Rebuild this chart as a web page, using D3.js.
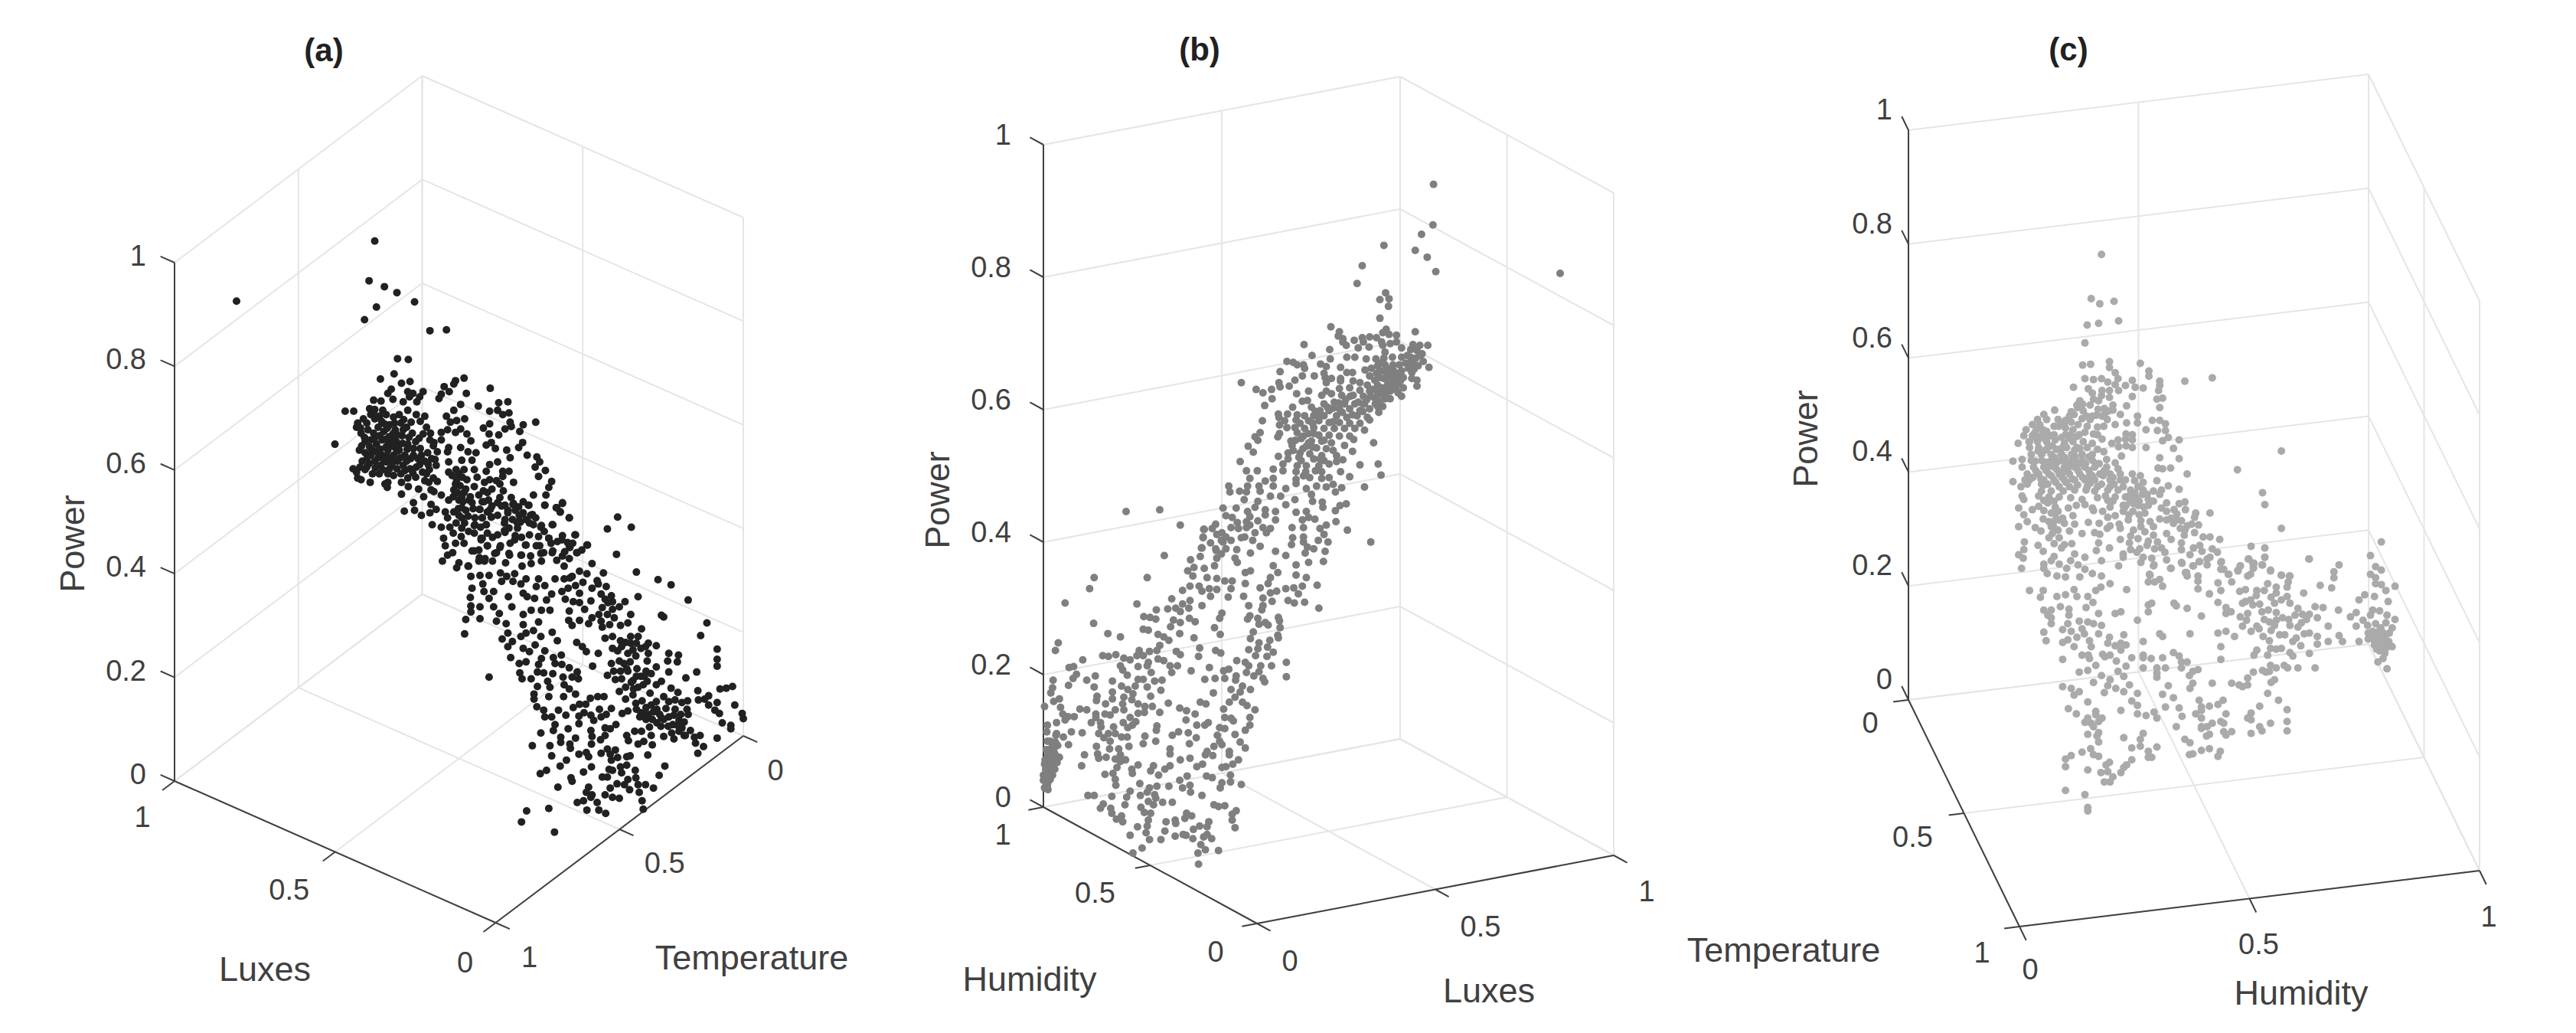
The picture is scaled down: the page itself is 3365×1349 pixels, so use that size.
<!DOCTYPE html>
<html>
<head>
<meta charset="utf-8">
<script src="https://cdn.jsdelivr.net/npm/d3@7"></script>
<style>
html, body { margin: 0; padding: 0; background: #fff; }
text { font-family: "Liberation Sans", Arial, sans-serif; fill: #404040; }
</style>
</head>
<body>
<div id="chart"></div>
<script>
var powerTicks = [0, 0.2, 0.4, 0.6, 0.8, 1];
var sideTicks = [0, 0.5, 1];

// dots, flat across,height pairs, per mille of each panel's box
// (depth can't be recovered from one view so only the projected place is kept)
var viewA = [109,734,352,805,342,758,369,751,391,744,422,733,355,727,334,712,449,699,478,700,392,666,411,665,386,648,362,642,399,637,414,639,509,643,494,640,491,636,474,633,483,627,469,624,465,619,513,625,555,631,381,630,375,625,410,627,419,625,437,627,431,621,413,621,426,615,402,615,384,618,363,616,350,617,343,607,350,603,366,605,300,604,315,604,282,565,
322,590,320,585,332,595,338,590,345,600,352,595,360,598,372,600,385,597,395,600,410,605,425,600,432,592,440,598,328,578,340,582,350,578,358,585,368,580,378,588,388,582,398,590,408,585,418,578,430,572,443,585,450,578,335,568,345,570,355,565,365,570,372,562,380,572,390,568,400,575,410,565,420,560,432,560,445,555,455,563,325,558,335,555,345,552,355,556,365,552,375,558,385,552,395,558,405,552,415,548,428,548,440,545,452,548,462,556,330,545,342,542,352,545,362,540,372,544,382,540,392,545,402,540,414,536,425,538,436,532,448,535,460,540,320,532,335,535,348,530,360,530,375,530,385,528,398,530,410,525,424,526,440,522,455,525,314,536,322,525,328,523,344,520,370,518,
534,610,503,612,491,605,478,598,510,595,496,593,485,591,503,583,469,579,480,582,494,579,514,577,521,569,543,584,553,577,570,576,554,604,570,614,586,615,588,602,568,605,577,600,554,589,590,591,581,583,592,586,613,588,607,580,635,591,548,564,557,567,564,560,612,567,605,561,584,558,590,549,620,552,637,550,642,544,634,538,652,534,640,527,663,521,658,514,653,505,631,505,596,520,651,493,682,495,671,490,678,485,694,478,664,470,554,541,568,544,548,533,577,533,588,533,577,527,554,523,572,518,578,510,550,508,530,555,516,556,503,561,482,561,456,567,469,570,480,556,505,546,523,546,527,535,509,535,482,544,482,532,496,523,514,523,532,526,545,520,527,515,509,508,491,511,500,499,518,499,482,499,469,505,456,509,447,520,462,521,451,511,438,503,429,512,411,515,399,520,375,520,374,514,399,506,420,496,404,486,422,487,434,481,449,484,453,470,460,488,451,494,476,485,480,478,491,485,505,490,505,478,505,466,527,469,523,496,541,497,552,499,572,502,592,502,613,497,623,493,599,487,581,493,568,481,550,485,536,488,541,478,557,479,548,470,527,460,509,448,494,448,473,454,469,467,476,445,489,437,480,434,471,427,500,425,496,419,516,421,527,439,541,454,550,460,568,458,581,461,599,457,610,455,624,458,626,481,613,484,608,473,631,470,644,467,640,456,658,454,682,457,691,449,704,458,726,446,642,445,617,446,590,448,572,443,550,445,539,452,545,427,536,431,563,436,588,436,610,434,626,433,644,436,664,437,682,433,707,437,
779,479,761,465,803,467,777,435,812,414,850,405,873,399,903,381,815,385,936,354,925,339,856,363,860,361,954,323,954,311,954,303,869,318,886,316,884,308,867,309,869,296,918,296,899,289,981,279,970,277,959,276,920,274,939,268,921,263,932,264,954,260,939,257,985,257,950,251,958,247,998,247,1000,241,978,233,978,229,963,236,954,218,930,208,920,200,924,221,914,219,916,212,896,221,878,217,860,220,832,198,840,210,825,214,815,211,821,226,809,226,838,221,795,221,798,215,862,185,852,174,842,159,822,144,824,134,758,129,746,133,725,133,708,142,719,144,743,142,782,147,770,148,757,151,732,148,734,151,724,154,728,160,766,159,778,164,791,163,800,157,815,163,817,154,828,163,811,171,797,169,810,180,786,177,795,186,784,184,770,180,764,181,761,172,752,172,719,178,733,184,768,192,779,195,795,196,801,197,775,204,761,205,766,199,750,200,728,196,724,201,711,199,689,192,678,185,663,197,654,180,643,176,697,171,699,167,674,160,658,135,619,132,610,119,668,107,629,209,660,209,644,224,666,227,669,234,679,219,679,213,692,229,695,211,696,206,705,218,733,211,749,216,734,220,732,227,757,230,766,229,776,234,757,221,711,235,711,244,720,248,737,239,732,245,747,252,759,246,768,253,750,243,688,245,675,251,701,254,712,258,723,258,731,265,744,267,755,267,787,247,797,250,811,259,793,264,806,269,822,262,818,243,829,240,835,231,829,254,847,261,838,257,853,246,856,242,869,243,876,234,874,224,887,226,898,221,907,227,896,237,887,239,903,246,901,252,892,260,902,262,880,263,880,252,869,261,860,267,873,277,885,272,856,285,847,281,836,271,824,281,815,278,831,285,847,302,838,294,829,297,813,300,797,297,784,297,786,288,775,287,761,292,803,284,793,278,782,273,768,306,782,309,779,321,770,324,797,318,811,315,833,318,831,309,820,324,802,330,833,330,847,327,815,338,802,338,821,347,784,351,770,338,757,336,784,333,797,354,802,364,770,370,757,382,770,379,782,373,792,379,746,364,761,364,773,360,765,352,752,349,750,356,728,353,734,360,721,370,701,379,712,378,732,380,712,389,750,388,759,397,743,404,734,395,768,386,754,413,734,424,725,412,712,415,699,409,685,406,669,406,681,391,692,395,687,382,663,388,694,368,712,357,693,357,699,351,707,331,717,326,724,320,745,318,735,303,664,343,673,333,680,316,666,313,669,306,681,305,694,301,708,296,710,288,699,290,683,290,685,281,694,276,705,270,684,267,658,267,660,278,656,285,665,294,649,295,638,296,627,288,638,279,611,288,607,295,632,270,632,264,637,255,649,251,651,243,663,243,553,290,618,308,606,306,591,313,645,312,640,305,586,326,594,332,576,335,586,342,609,338,618,342,631,345,644,338,634,328,613,324,624,320,651,321,613,352,613,364,640,355,645,369,627,369,660,369,583,353,566,356,571,365,561,373,537,373,537,359,521,374,521,367,512,358,510,341,593,373,587,385,561,391,553,383,544,391,542,400,523,395,520,384,553,410,537,410,521,409,573,413,598,412,584,409,575,403,595,403,609,400,618,406,636,397,651,398,613,389,620,385,633,383,654,381,640,406,611,421,627,424,609,434,589,434,582,425,559,427,546,430,535,427,517,421,523,439,535,440,566,437,573,445,550,445,539,454,559,455,580,463,598,452,618,446,636,445,649,437,665,439,645,427,672,428,685,421,694,430,708,437,658,454,681,452,694,445,705,458,725,446,665,470,645,469,624,472,629,482,694,478,678,485,672,490,682,496,651,493,622,493,609,482,602,473,586,484,580,472,557,479,541,478,548,470,528,470,537,488,555,488,568,496,595,494,544,497];
var denseA = [327,584,334,573,343,562,351,571,361,575,369,589,376,566,384,577,393,563,402,582,412,573,424,568,437,577,449,570,329,563,339,549,347,558,358,549,368,546,379,548,388,561,397,549,409,559,420,552,434,552,446,541,458,547,326,538,338,538,353,537,366,535,378,536,391,536,405,534,419,531,431,541,443,530,352,606,364,592,374,584,387,590,403,594,416,591,378,574,386,570,392,576,372,571,381,563,391,557,362,559,373,551,384,546,401,566,408,545,
488,528,495,535,500,530,494,518,502,516,506,526,497,508,505,503,512,512,490,503,499,489,507,497,512,487,500,481,510,472,516,480,495,472,490,460,504,456,517,462,484,467,520,503,525,489,535,505,543,510,558,512,566,522,528,478,538,467,558,492,
575,492,586,487,596,495,605,491,606,481,594,476,581,476,588,466,603,466,618,476,635,478,650,462,662,448,673,450,695,443,686,438,700,448,716,440,
812,252,820,248,826,246,833,246,842,249,848,252,860,240,868,232,884,233,892,230,890,246,878,245,864,253,855,232,848,236,840,240,806,286,812,291,820,291,807,276,826,291,801,308,806,322,812,330,828,326,793,331,786,326,795,300,772,297,790,306,745,400,752,372,762,378,718,402,705,398,695,407];

var viewB = [684,872,683,824,663,813,597,800,652,794,673,786,688,769,906,767,559,776,550,755,600,744,590,736,606,737,605,728,590,714,504,704,519,698,601,701,595,697,606,695,619,694,652,698,517,693,525,690,545,688,559,691,572,692,584,691,525,686,531,682,561,686,593,686,608,684,619,686,457,683,552,679,571,680,595,682,628,679,648,683,660,682,674,682,502,677,471,670,644,677,655,676,664,672,599,674,532,668,546,668,503,666,566,666,583,666,597,667,612,668,628,668,644,668,653,667,427,663,438,662,445,659,456,659,486,660,496,657,521,656,648,662,666,663,676,656,657,658,646,657,635,661,624,659,613,659,599,659,586,658,575,655,564,653,458,655,415,651,532,650,542,650,492,649,646,650,628,652,613,653,597,652,584,649,572,646,454,646,475,646,494,644,505,643,521,643,646,643,655,641,631,644,613,646,597,643,581,641,441,641,347,638,413,638,415,633,496,638,521,640,543,640,555,638,568,635,586,635,604,637,622,637,655,634,631,632,373,630,400,630,431,634,385,626,444,625,465,628,519,631,537,632,555,629,572,628,590,628,608,628,622,626,628,622,496,628,488,623,505,625,523,623,543,623,561,622,581,620,599,619,608,619,401,619,388,611,454,616,463,617,470,609,437,609,492,613,510,615,528,613,546,613,563,613,586,610,595,610,588,603,572,607,555,605,537,607,519,607,501,605,485,605,412,601,428,601,445,600,458,599,474,599,492,599,514,599,532,597,550,599,568,597,413,597,423,593,384,593,443,594,465,593,483,593,501,591,519,591,537,590,555,590,572,594,414,588,427,585,441,585,458,584,474,585,492,584,510,584,528,584,546,584,563,582,380,579,371,574,376,570,414,578,411,574,445,579,465,578,483,576,501,576,519,575,537,575,544,571,452,572,470,569,488,569,505,567,528,564,579,567,434,569,436,564,461,563,479,561,496,560,508,558,542,557,359,563,368,556,450,555,467,554,488,552,514,552,429,555,412,551,429,548,452,546,474,548,492,546,525,547,345,545,420,542,445,540,461,540,483,540,501,542,514,545,555,541,587,542,403,536,356,534,375,534,420,534,443,533,456,528,488,533,521,533,592,529,537,527,362,525,389,522,403,525,443,524,467,526,488,525,501,526,325,516,358,516,378,516,403,516,425,513,443,519,461,513,479,516,496,515,508,518,523,514,563,515,327,509,344,510,356,509,380,510,398,504,416,504,470,506,512,509,352,500,376,498,441,500,472,498,489,497,315,490,338,490,371,491,389,488,425,494,490,491,520,493,531,495,512,487,320,481,331,479,358,486,407,486,443,485,461,486,362,480,389,482,465,479,340,473,376,475,407,476,454,476,476,477,513,474,302,471,356,474,281,465,329,467,356,467,398,466,436,467,456,467,485,466,496,470,533,464,385,467,280,455,313,461,371,461,391,461,304,459,353,456,437,455,456,456,492,459,293,449,315,450,329,452,347,455,367,452,456,450,482,452,499,450,574,450,277,443,302,442,320,442,380,445,435,447,463,444,474,442,
145,486,204,488,240,470,282,465,280,456,212,434,278,443,258,429,275,433,304,431,336,431,363,437,407,439,425,434,443,423,465,426,491,427,494,439,459,437,253,416,264,420,282,419,300,422,262,410,287,408,304,407,318,404,331,404,354,414,363,416,340,426,403,422,411,414,398,408,443,411,461,408,89,408,182,408,81,395,244,393,257,398,273,398,291,395,304,394,278,392,329,395,354,401,380,396,394,401,409,392,425,395,439,396,454,398,480,399,398,390,447,389,257,381,225,383,293,386,324,385,351,386,385,384,429,381,440,378,458,379,401,380,38,378,164,377,244,377,278,375,360,375,385,375,483,372,198,370,218,371,232,372,255,372,240,368,383,370,313,366,176,362,187,361,197,359,228,358,256,360,362,363,412,361,309,360,358,359,376,360,414,357,88,354,240,355,266,356,378,353,389,355,223,350,300,349,394,352,415,349,175,347,184,346,368,344,239,342,310,341,411,340,113,342,201,341,211,338,135,338,264,337,363,336,412,337,220,334,397,334,26,331,378,331,204,328,274,325,393,326,21,322,199,322,233,321,360,323,376,324,302,322,168,322,186,321,403,320,104,316,127,317,114,315,164,316,175,316,240,317,311,319,372,316,272,315,392,315,69,311,141,313,152,311,201,312,211,310,339,310,354,308,426,308,184,308,166,303,135,304,222,304,235,304,45,302,53,303,360,304,381,304,400,304,291,302,182,304,139,299,225,296,259,298,316,298,325,300,356,296,378,297,189,296,58,294,91,292,147,293,369,292,338,292,52,289,426,291,385,289,76,287,121,286,166,288,175,288,195,286,208,287,283,288,301,289,318,289,337,287,17,287,388,285,44,281,89,279,137,280,161,280,182,279,349,280,16,278,206,275,148,276,329,276,363,276,13,272,121,273,298,272,345,273,157,271,94,268,141,267,188,268,336,267,28,265,18,262,93,263,121,265,155,264,275,261,285,259,326,261,349,261,219,260,166,259,109,259,139,259,2,256,30,255,178,256,191,256,357,257,239,254,64,253,76,252,126,252,141,252,316,253,371,252,251,251,108,247,117,246,177,249,166,248,204,249,34,247,92,247,266,247,54,244,43,244,362,243,318,243,329,242,92,243,152,243,250,240,38,240,333,239,84,237,140,237,162,238,289,237,23,237,100,237,269,234,362,234,7,234,283,234,101,232,123,232,148,231,199,233,309,231,318,230,156,234,354,228,198,228,6,226,49,226,68,225,97,224,237,226,23,224,254,225,114,224,126,224,226,222,305,222,336,223,178,221,106,219,137,220,147,220,268,219,7,215,35,220,117,215,197,215,309,215,345,214,21,214,44,211,175,212,256,212,313,211,93,209,150,209,299,209,354,207,15,208,132,206,222,206,116,206,287,203,326,203,72,199,95,200,222,200,14,200,135,199,284,199,297,198,326,199,110,196,28,196,97,195,144,193,126,194,257,195,240,193,3,193,18,193,342,193,67,186,135,191,166,187,12,187,193,186,222,186,279,188,332,188,129,184,269,185,320,185,5,181,155,182,213,182,313,184,188,180,156,177,108,176,122,177,202,175,0,175,9,173,252,174,286,174,296,172,328,175,126,170,239,169,328,167,169,165,127,163,257,163,313,166,347,164,0,169,7,163,199,162,220,162,244,160,310,160,186,160,182,155,152,156,258,155,195,152,278,151,78,151,89,151,120,150,170,151,146,149,197,148,184,144,209,143,226,143,193,140,143,140,105,141,299,140,307,138,318,139,100,136,118,136,171,137,338,133,177,131,331,129,120,130,188,130,251,130,260,127,137,127,128,123,248,124,331,122,184,122,231,122,139,120,215,120,232,118,290,120,182,115,165,114,274,115,287,114,336,113,263,111,213,109,180,107,287,105,152,104,231,103,245,105,281,102,250,104,262,100,186,99,206,99,295,100,276,93,173,89,284,87,307,86,271,83,157,83,272,70,5,205,12,215,18,205,8,195,14,190,20,182,2,188,10,178,2,172,5,166,12,170,16,175,2,160,8,158,25,210,20,200,24,190,17,185,22,222];
var denseB = [592,661,602,655,608,651,617,650,622,648,590,652,603,646,610,642,618,641,626,640,590,644,602,633,612,634,618,630,594,632,600,625,586,624,578,630,574,622,582,613,594,625,590,616,567,618,560,613,552,615,538,622,530,618,518,614,508,608,498,609,477,604,484,598,508,592,524,603,542,600,560,604,450,590,456,575,474,578,492,570,472,590,465,567,442,570,455,560,472,562,485,548,477,534,460,533,438,558,448,550,640,655,644,662,650,654,638,670,660,670,
8,199,11,184,6,176,13,198,4,182,15,180,18,196,9,168,
303,440,312,452,339,441,362,470,342,466,320,456,296,466,312,436];

var viewC = [338,790,320,738,335,732,360,735,368,712,313,707,333,709,309,686,305,660,319,661,352,664,352,657,362,651,367,644,406,662,421,653,421,647,440,641,484,641,532,645,309,644,324,643,338,644,349,640,362,637,392,642,380,636,397,634,411,633,440,636,289,634,438,630,315,632,339,630,352,630,368,630,322,627,338,624,352,622,392,623,435,620,445,621,300,618,324,620,333,618,295,613,318,613,358,613,382,612,343,609,358,607,440,610,256,607,285,605,306,606,371,602,237,602,329,601,339,600,401,600,226,596,242,596,262,596,275,595,285,593,304,597,318,596,348,596,427,595,440,595,217,590,230,590,255,588,275,586,297,590,313,588,331,587,342,588,362,590,382,592,401,592,450,591,206,584,224,584,242,582,288,584,309,581,324,579,416,584,436,583,450,583,202,577,217,577,233,577,248,577,275,578,295,576,331,578,381,579,392,578,455,575,192,568,211,570,226,570,242,570,257,572,273,568,288,570,306,570,322,568,339,573,367,572,380,573,392,572,445,571,474,572,356,568,212,563,228,563,244,563,259,561,277,563,295,563,313,563,331,561,368,564,381,565,392,563,416,563,464,562,653,559,215,555,233,555,250,555,268,555,286,555,304,555,322,555,342,558,373,553,183,547,199,549,215,548,233,548,250,548,268,548,286,548,304,548,322,548,347,549,440,551,474,550,362,545,199,540,219,540,237,540,255,540,273,540,291,540,309,540,326,540,347,540,367,538,437,539,445,538,459,539,576,537,208,532,228,532,246,532,264,532,282,532,300,532,318,532,335,532,353,532,371,532,392,532,406,530,488,532,204,525,183,523,212,525,237,525,255,525,273,525,291,525,309,525,326,525,353,525,371,525,396,524,411,522,435,524,197,517,237,519,264,517,282,517,313,517,331,517,353,517,376,517,402,517,455,518,233,512,250,512,271,512,291,513,311,513,326,512,349,513,367,513,389,513,411,513,429,512,443,513,474,514,620,510,199,506,228,506,246,505,264,505,284,504,331,504,380,505,398,505,420,502,440,508,202,502,237,501,255,500,304,502,349,501,358,500,389,500,429,500,452,498,484,499,624,496,309,496,376,495,402,495,420,495,474,497,193,492,217,490,257,493,280,492,294,495,322,492,353,493,443,492,465,490,485,490,237,489,324,489,340,488,376,488,393,488,414,486,452,488,503,486,528,486,202,484,257,485,288,483,362,483,470,485,236,479,264,478,349,481,385,478,440,479,501,481,452,478,273,474,208,476,315,475,334,474,407,477,423,476,464,474,478,477,193,470,222,469,250,470,291,473,353,471,369,473,407,470,429,470,488,471,508,472,653,468,232,465,262,466,282,465,348,468,371,468,394,466,476,468,304,462,326,463,335,461,414,464,452,462,483,460,501,463,246,457,264,457,389,459,429,460,402,456,460,455,371,455,516,458,528,458,545,455,203,452,255,450,286,450,333,451,387,451,420,453,436,452,478,451,227,448,273,449,418,448,510,448,600,447,202,443,268,445,352,445,431,444,443,445,499,445,478,443,624,445,236,441,329,442,389,443,405,444,532,444,449,440,514,441,541,440,193,437,291,438,376,438,400,440,493,437,201,433,255,435,309,434,411,434,426,433,528,434,596,432,624,434,701,432,284,430,376,434,452,431,250,430,338,430,407,428,510,429,548,429,237,426,264,426,297,425,479,427,430,425,605,427,620,425,368,424,499,424,523,425,581,424,198,421,237,421,277,421,460,421,552,420,604,421,577,418,634,418,309,420,243,415,322,415,485,416,260,412,275,411,300,411,338,412,423,413,561,414,599,414,653,413,668,412,488,412,
828,452,809,436,818,423,828,419,809,414,754,425,745,417,745,410,721,401,741,398,818,410,818,403,828,402,852,400,836,395,816,388,799,390,789,384,840,382,726,375,753,372,784,369,774,364,813,372,825,371,838,366,796,360,809,366,852,361,784,353,804,354,818,356,836,357,847,351,827,351,809,342,818,345,836,343,805,338,827,339,816,336,834,335,789,335,847,329,825,330,816,331,836,327,825,324,843,331,834,321,831,315,822,311,838,303,760,335,754,342,735,353,735,335,716,332,716,341,716,363,712,376,712,304,702,321,682,304,702,432,
692,392,663,388,668,380,682,374,677,366,690,367,702,367,697,361,688,357,682,352,668,354,666,361,655,363,644,369,644,360,641,380,653,384,630,372,619,370,615,379,603,378,599,384,590,382,585,380,594,368,581,364,592,360,585,353,556,375,565,370,556,368,623,361,632,358,641,354,610,353,614,350,600,347,635,348,650,343,659,343,679,339,693,344,702,345,673,335,687,330,621,341,632,336,634,327,644,326,653,327,668,322,673,318,610,325,605,319,629,319,658,307,664,304,634,307,644,304,620,301,626,299,632,300,604,299,594,292,641,290,635,287,594,284,585,282,579,284,566,286,532,286,629,274,648,266,615,259,663,255,600,251,594,245,600,243,663,241,634,239,615,235,619,230,663,230,600,227,
551,266,542,261,527,259,509,266,513,258,513,254,503,250,513,245,556,250,479,247,474,257,450,258,547,241,552,239,532,239,523,235,513,235,513,233,469,235,552,229,566,229,556,225,527,226,522,224,484,220,493,216,546,206,542,200,527,209,513,207,498,203,492,202,542,345,556,347,571,341,493,344,440,344,445,341,411,335,547,329,547,314,411,319,411,316,425,315,445,316,464,322,474,318,478,311,488,311,478,304,450,304,435,304,435,298,435,293,411,304,507,302,498,300,492,295,498,286,493,280,455,283,445,273,464,269,401,360,420,378,426,380,420,370,465,380,469,377,488,374,513,365,542,381,527,391,507,397,547,395,542,404,566,405,445,400,420,405,431,405,440,408,382,396,353,403,337,399,328,395,290,396,236,395,212,395,231,387,260,388,275,390,295,388,314,388,323,381,237,372,250,372,266,376,281,373,311,375,244,366,250,363,281,366,333,368,362,368,372,370,250,356,279,356,299,359,314,358,324,356,338,354,270,349,285,347,304,350,237,346,377,343,295,340,308,344,333,344,352,340,241,336,270,334,279,337,317,336,290,329,320,329,349,333,362,330,372,333,381,331,372,325,270,314,304,319,315,319,340,320,344,317,353,319,317,315,391,316,364,312,328,307,381,306,299,299,314,301,367,300,338,295,377,294,353,290,324,287,270,282,285,280,299,276,290,272,387,284,363,280,349,283,343,275,377,276,401,274,314,264,391,265,401,260,280,256,328,253,372,254,294,250,401,250,416,248,430,252,328,249,435,245,339,245,314,245,333,241,309,240,320,239,324,235,411,227,333,228,314,226,377,222,330,224,406,220,333,217,406,212,435,211,391,210,319,209,420,206,304,205,324,202,333,200,285,201,275,197,420,199,426,199,391,196,352,193,275,188,346,190,382,190,314,184,377,187,337,181,349,182,372,181,358,176,343,170,353,170,275,160,309,155,314,140,314,136,
624,434,619,425,595,432,603,427,604,422,594,412,634,419,653,413,667,412,665,405,663,399,629,403,623,395,644,399,644,392,635,387,610,395,609,389,590,396,580,394,560,414,577,419,581,424,547,428,547,420,523,432,509,429,507,412,507,406,487,416,459,421,478,428,498,424,429,424,422,414];
var denseC = [221,580,237,574,252,565,268,562,281,574,300,562,316,552,227,559,240,560,256,551,274,551,291,560,310,544,328,544,222,547,240,546,258,544,278,544,296,544,316,536,334,544,223,536,241,536,260,537,278,536,297,536,314,527,343,536,218,528,232,526,250,530,269,528,287,526,305,528,322,530,341,530,358,528,212,570,255,578,268,575,284,578,299,578,222,575,236,584,283,541,263,547,270,534,292,552,303,544,246,541,233,520,244,520,258,522,276,522,296,519,318,521,338,520,360,520,380,525,345,506,362,505,386,506,404,500,410,508,396,510,418,508,381,495,394,497,412,493,404,484,386,484,378,492,
290,602,296,610,305,614,312,600,322,600,332,608,343,602,350,606,273,592,282,600,263,588,
208,520,228,494,244,498,250,486,256,477,258,466,262,488,270,480,254,470,246,476,252,462,
460,480,470,478,484,466,496,473,
826,350,813,347,822,340,830,346,842,345,814,341,818,330,829,334,841,335,805,345,820,326];

var panels = [
    { title: "(a)", titleAt: [423, 68], color: "#212121", view: viewA.concat(denseA),
      left: [228, 1020], front: [647.5, 1205], right: [971, 961], height: 677,
      top: 99,
      aName: "Luxes", aDomain: [0, 1], aAt: [346, 1268], bName: "Temperature", bDomain: [1, 0], bAt: [982, 1253],
      powerAt: [94, 710], powerOff: [-37, -9],
      aOff: [[-40, 55], [-60, 52], [-42, 50]], bOff: [[44, 48], [59, 47], [42, 48]] },
    { title: "(b)", titleAt: [1567, 67], color: "#7f7f7f", view: viewB.concat(denseB),
      left: [1363, 1054], front: [1642, 1206], right: [2108, 1117], height: 865,
      top: 99,
      aName: "Humidity", aDomain: [0, 1], aAt: [1345, 1281], bName: "Luxes", bDomain: [0, 1], bAt: [1945, 1296],
      powerAt: [1224, 653], powerOff: [-42, -13],
      aOff: [[-54, 40], [-72, 39], [-53, 39]], bOff: [[43, 52], [59, 51], [43, 50]] },
    { title: "(c)", titleAt: [2702, 67], color: "#aaaaaa", view: viewC.concat(denseC),
      left: [2493, 914], front: [2638, 1210], right: [3239, 1137], height: 744,
      top: 99,
      aName: "Temperature", aDomain: [1, 0], aAt: [2330, 1243], bName: "Humidity", bDomain: [0, 1], bAt: [3006, 1299],
      powerAt: [2358, 573], powerOff: [-21, -27],
      aOff: [[-49, 37], [-67, 34], [-50, 33]], bOff: [[14, 59], [12, 62], [12, 63]] }
];

var svg = d3.select("#chart")
    .append("svg")
    .attr("width", 3365)
    .attr("height", 1349);

panels.forEach(function(p) {
    var g = svg.append("g");
    var aVec = [p.left[0] - p.front[0], p.left[1] - p.front[1]];
    var bVec = [p.right[0] - p.front[0], p.right[1] - p.front[1]];
    var aScale = d3.scaleLinear().domain(p.aDomain).range([0, 1]);
    var bScale = d3.scaleLinear().domain(p.bDomain).range([0, 1]);
    var powerScale = d3.scaleLinear().domain([0, 1]).range([0, p.height]);
    var acrossScale = d3.scaleLinear().domain([0, 1000]).range([p.left[0], p.right[0]]);
    var upScale = d3.scaleLinear().domain([0, 1000]).range([p.front[1], p.top]);

    // a, b are 0..1 along the two floor edges, power goes straight up
    function project(a, b, power) {
        return [p.front[0] + a * aVec[0] + b * bVec[0],
                p.front[1] + a * aVec[1] + b * bVec[1] - powerScale(power)];
    }
    function line(group, from, to, color) {
        group.append("line")
            .attr("x1", from[0]).attr("y1", from[1])
            .attr("x2", to[0]).attr("y2", to[1])
            .attr("stroke", color)
            .attr("stroke-width", 2);
    }
    function tick(group, at, dir) {
        var len = Math.sqrt(dir[0] * dir[0] + dir[1] * dir[1]);
        line(group, at, [at[0] + dir[0] / len * 20, at[1] + dir[1] / len * 20], "#404040");
    }
    // pull the central baseline up a little, the text sat low otherwise
    function label(at, str, size, anchor) {
        return g.append("text")
            .attr("x", at[0]).attr("y", at[1] - 3)
            .attr("text-anchor", anchor || "middle")
            .attr("dominant-baseline", "central")
            .attr("font-size", size)
            .text(str);
    }

    var gGrid = g.append("g");
    var gAxis = g.append("g");

    powerTicks.forEach(function(v) {
        line(gGrid, project(1, 0, v), project(1, 1, v), "#e5e5e5");
        line(gGrid, project(1, 1, v), project(0, 1, v), "#e5e5e5");
        var at = project(1, 0, v);
        tick(gAxis, at, aVec);
        label([at[0] + p.powerOff[0], at[1] + p.powerOff[1] + 3], String(v), 38, "end");
    });
    sideTicks.forEach(function(v) {
        var a = aScale(v), b = bScale(v);
        line(gGrid, project(a, 0, 0), project(a, 1, 0), "#e5e5e5");
        line(gGrid, project(a, 1, 0), project(a, 1, 1), "#e5e5e5");
        line(gGrid, project(0, b, 0), project(1, b, 0), "#e5e5e5");
        line(gGrid, project(1, b, 0), project(1, b, 1), "#e5e5e5");
    });
    sideTicks.forEach(function(v) {
        var a = aScale(v), b = bScale(v);
        var atA = project(a, 0, 0), atB = project(0, b, 0);
        tick(gAxis, atA, [-bVec[0], -bVec[1]]);
        tick(gAxis, atB, [-aVec[0], -aVec[1]]);
        var offA = p.aOff[a * 2], offB = p.bOff[b * 2];
        label([atA[0] + offA[0], atA[1] + offA[1]], String(v), 38);
        label([atB[0] + offB[0], atB[1] + offB[1]], String(v), 38);
    });
    line(gAxis, project(1, 0, 0), project(1, 0, 1), "#404040");
    line(gAxis, project(0, 0, 0), project(1, 0, 0), "#404040");
    line(gAxis, project(0, 0, 0), project(0, 1, 0), "#404040");

    label(p.aAt, p.aName, 45);
    label(p.bAt, p.bName, 45);
    label([0, 3], "Power", 45)
        .attr("transform", "translate(" + p.powerAt[0] + "," + p.powerAt[1] + ") rotate(-90)");
    label(p.titleAt, p.title, 42).attr("font-weight", "bold").style("fill", "#212121");

    var dots = d3.range(0, p.view.length, 2).map(function(i) {
        return [p.view[i], p.view[i + 1]];
    });
    g.append("g").selectAll("circle")
        .data(dots)
        .enter()
        .append("circle")
        .attr("cx", function(d) { return acrossScale(d[0]); })
        .attr("cy", function(d) { return upScale(d[1]); })
        .attr("r", 5)
        .attr("fill", p.color);
});
</script>
</body>
</html>
